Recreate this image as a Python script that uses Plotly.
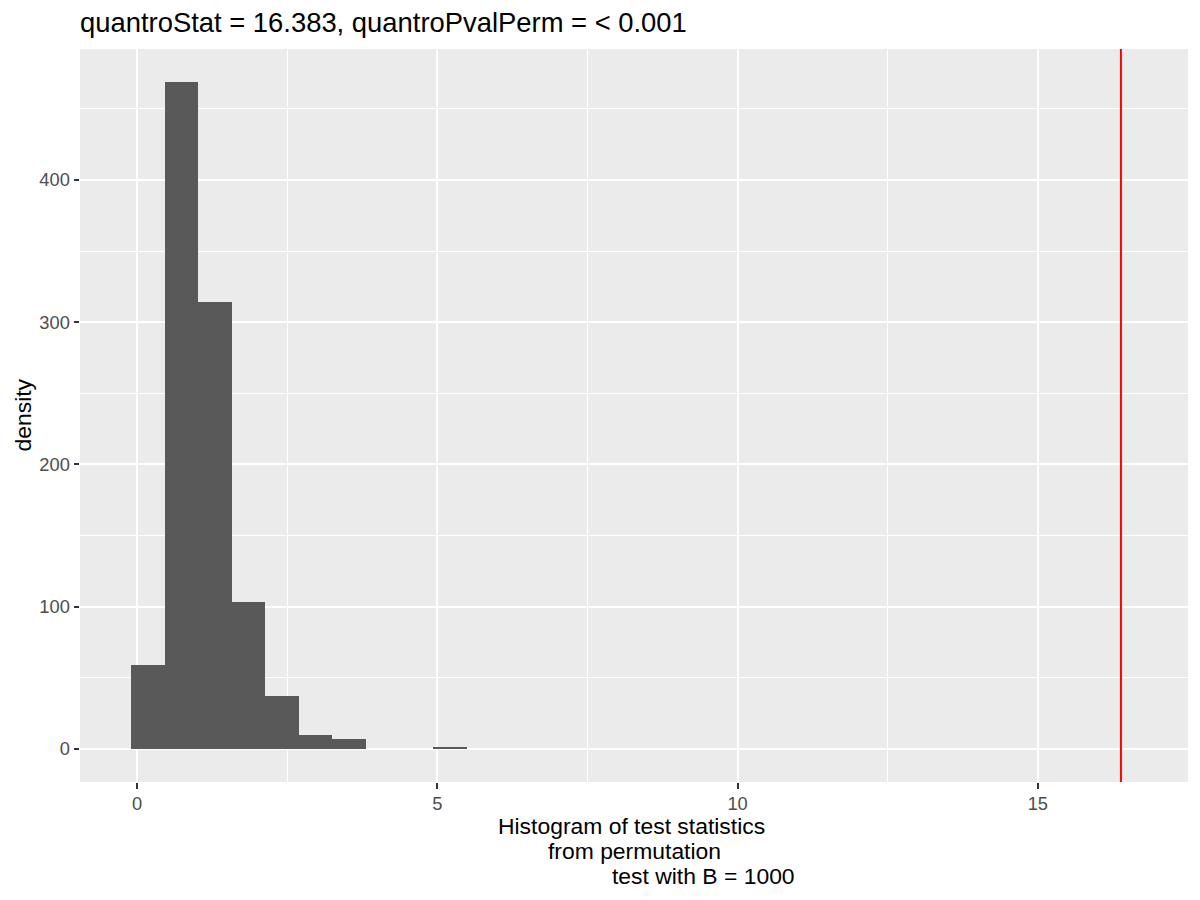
import plotly.graph_objects as go

# histogram of permutation statistics (bin centres / density)
bin_width = 0.559
bin_centers = [0.180, 0.739, 1.298, 1.857, 2.416, 2.975, 3.534, 5.211]
density = [59, 469, 314, 103, 37, 9.6, 6.8, 1.5]

quantro_stat = 16.383
x_ticks = [0, 5, 10, 15]
y_ticks = [0, 100, 200, 300, 400]

title_text = "quantroStat = 16.383, quantroPvalPerm = < 0.001"
xlab_lines = ["Histogram of test statistics", "from permutation", "test with B = 1000"]
ylab = "density"

# the page puts the figure 8px in from the window corner
OFF = 8
W, H = 1200, 900
L, R, T, B = 80 - OFF, 12 + OFF, 49 - OFF, 118 + OFF
pw = W - L - R
ph = H - T - B

fig = go.Figure()

fig.add_trace(
    go.Bar(
        x=bin_centers,
        y=density,
        width=bin_width,
        marker=dict(color="#595959", line=dict(width=0)),
        hoverinfo="x+y",
    ))

fig.add_vline(x=quantro_stat, line_color="red", line_width=2)

axis_font = dict(family="Liberation Sans, Arial, sans-serif", size=18.3, color="#4D4D4D")

fig.update_layout(
    width=W,
    height=H,
    margin=dict(l=L, r=R, t=T, b=B),
    paper_bgcolor="white",
    plot_bgcolor="#EBEBEB",
    showlegend=False,
    bargap=0,
    font=dict(family="Liberation Sans, Arial, sans-serif", color="black"),
    title=dict(
        text=title_text,
        font=dict(size=27.4, color="black"),
        x=L / W, xanchor="left", xref="container",
        y=1 - (22 - OFF) / H, yanchor="middle", yref="container",
    ),
    xaxis=dict(
        range=[-0.949, 17.50],
        tickvals=x_ticks,
        ticks="outside", ticklen=5.5, tickwidth=1.5, tickcolor="#333333",
        tickfont=axis_font,
        showgrid=True, gridcolor="white", gridwidth=2,
        minor=dict(dtick=2.5, tick0=0, showgrid=True, gridcolor="white", gridwidth=1, ticks=""),
        zeroline=False, showline=False,
    ),
    yaxis=dict(
        range=[-23.4, 492.1],
        tickvals=y_ticks,
        ticks="outside", ticklen=5.5, tickwidth=1.5, tickcolor="#333333",
        tickfont=axis_font,
        showgrid=True, gridcolor="white", gridwidth=2,
        minor=dict(dtick=50, tick0=0, showgrid=True, gridcolor="white", gridwidth=1, ticks=""),
        zeroline=False, showline=False,
    ),
)

# x axis title: three lines, centred where the original puts them
line_centers = [631.5, 634.5, 703]
line_ys = [826, 851, 876]
for txt, cx, cy in zip(xlab_lines, line_centers, line_ys):
    fig.add_annotation(
        text=txt, showarrow=False,
        xref="paper", yref="paper",
        x=(cx - OFF - L) / pw, y=-(cy - OFF - (H - B)) / ph,
        xanchor="center", yanchor="middle",
        font=dict(size=22.9, color="black"),
    )

fig.add_annotation(
    text=ylab, showarrow=False, textangle=-90,
    xref="paper", yref="paper",
    x=-(L - (22 - OFF)) / pw, y=0.5,
    xanchor="center", yanchor="middle",
    font=dict(size=22.9, color="black"),
)

fig.write_html("out.html")
